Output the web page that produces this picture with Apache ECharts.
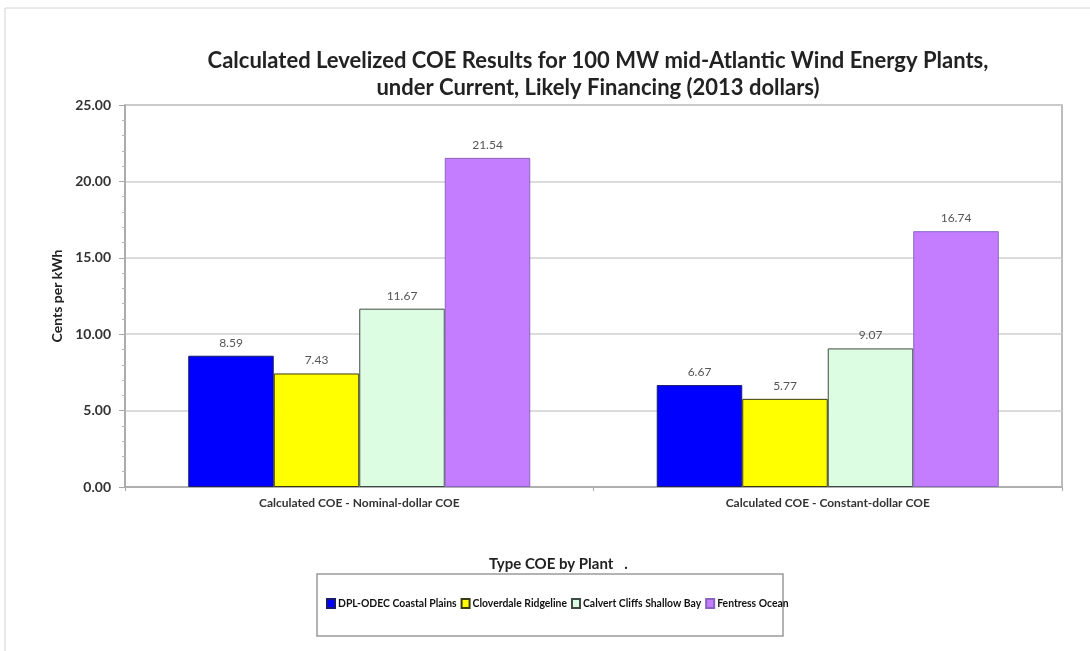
<!DOCTYPE html>
<html>
<head>
<meta charset="utf-8">
<script src="https://cdn.jsdelivr.net/npm/echarts@6/dist/echarts.min.js"></script>
<style>
  html, body { margin: 0; padding: 0; background: #ffffff; }
  #chart { width: 1090px; height: 651px; }
</style>
</head>
<body>
<div id="chart"></div>
<script>
// Levelized cost of energy, cents per kWh, 2013 dollars
const categories = [
  'Calculated COE - Nominal-dollar COE',
  'Calculated COE - Constant-dollar COE'
];
const plantNames = [
  'DPL-ODEC Coastal Plains',
  'Cloverdale Ridgeline',
  'Calvert Cliffs Shallow Bay',
  'Fentress Ocean'
];
const dplOdecCoastalPlains = [8.59, 6.67];
const cloverdaleRidgeline = [7.43, 5.77];
const calvertCliffsShallowBay = [11.67, 9.07];
const fentressOcean = [21.54, 16.74];
const yTicks = { min: 0, max: 25, step: 5 };

const plantValues = [dplOdecCoastalPlains, cloverdaleRidgeline, calvertCliffsShallowBay, fentressOcean];
const fills = ['#0000ff', '#ffff00', '#dcfde2', '#c47dff'];
const edges = ['#1a1a6a', '#3a3a10', '#3f4a42', '#8a64c0'];

const FONT = 'Lato, "Open Sans", sans-serif';

const chart = echarts.init(document.getElementById('chart'), null, { renderer: 'canvas' });

chart.setOption({
  backgroundColor: '#ffffff',
  animation: false,
  textStyle: { fontFamily: FONT },
  title: {
    text: 'Calculated Levelized COE Results for 100 MW mid-Atlantic Wind Energy Plants,\nunder Current, Likely Financing (2013 dollars)',
    left: 593,
    top: 42,
    textAlign: 'center',
    textStyle: {
      fontFamily: FONT,
      fontSize: 22,
      fontWeight: 'bold',
      color: '#222222',
      lineHeight: 27
    }
  },
  grid: {
    left: 125,
    right: 28,
    top: 105,
    bottom: 164,
    show: true,
    borderColor: '#a8a8a8',
    borderWidth: 1.5,
    containLabel: false
  },
  legend: {
    data: plantNames,
    left: 326,
    top: 598,
    padding: 0,
    itemWidth: 8,
    itemHeight: 9,
    itemGap: 4,
    icon: 'rect',
    textStyle: {
      fontFamily: FONT,
      fontSize: 10.4,
      fontWeight: 'bold',
      color: '#111111',
      padding: [0, 0, 0, -2]
    }
  },
  graphic: [
    {
      type: 'rect',
      shape: { x: 5, y: 8, width: 1100, height: 660 },
      style: { fill: 'none', stroke: '#d4d4d4', lineWidth: 1 },
      silent: true
    },
    {
      type: 'rect',
      shape: { x: 317, y: 574, width: 466, height: 62 },
      style: { fill: 'none', stroke: '#9a9a9a', lineWidth: 1.5 },
      silent: true,
      z: -1
    }
  ],
  xAxis: {
    type: 'category',
    data: categories,
    name: 'Type COE by Plant   .',
    nameLocation: 'middle',
    nameGap: 70,
    nameTextStyle: {
      fontFamily: FONT,
      fontSize: 15,
      fontWeight: 'bold',
      color: '#222222',
      padding: [0, 70, 0, 0]
    },
    axisLine: { lineStyle: { color: '#a8a8a8', width: 1.5 } },
    axisTick: { show: true, length: 4, lineStyle: { color: '#a8a8a8' } },
    axisLabel: {
      fontFamily: FONT,
      fontSize: 12,
      fontWeight: 'bold',
      color: '#333333',
      margin: 10
    },
    splitLine: { show: false }
  },
  yAxis: {
    type: 'value',
    min: yTicks.min,
    max: yTicks.max,
    interval: yTicks.step,
    name: 'Cents per kWh',
    nameLocation: 'middle',
    nameGap: 60,
    nameRotate: 90,
    nameTextStyle: {
      fontFamily: FONT,
      fontSize: 14,
      fontWeight: 'bold',
      color: '#222222'
    },
    axisLine: { show: true, lineStyle: { color: '#a8a8a8', width: 1.5 } },
    axisTick: { show: true, length: 6, lineStyle: { color: '#a8a8a8' } },
    minorTick: { show: true, splitNumber: 5, length: 3, lineStyle: { color: '#b8b8b8' } },
    axisLabel: {
      fontFamily: FONT,
      fontSize: 14,
      fontWeight: 'bold',
      color: '#333333',
      margin: 14,
      formatter: v => v.toFixed(2)
    },
    splitLine: { show: true, lineStyle: { color: '#cfcfcf', width: 1.5 } }
  },
  series: plantNames.map((name, i) => ({
    name: name,
    type: 'bar',
    data: plantValues[i],
    barCategoryGap: '27%',
    barGap: '0%',
    itemStyle: {
      color: fills[i],
      borderColor: edges[i],
      borderWidth: 1
    },
    label: {
      show: true,
      position: 'top',
      distance: 7,
      fontFamily: FONT,
      fontSize: 12,
      color: '#555555',
      formatter: p => p.value.toFixed(2)
    }
  }))
});
</script>
</body>
</html>
